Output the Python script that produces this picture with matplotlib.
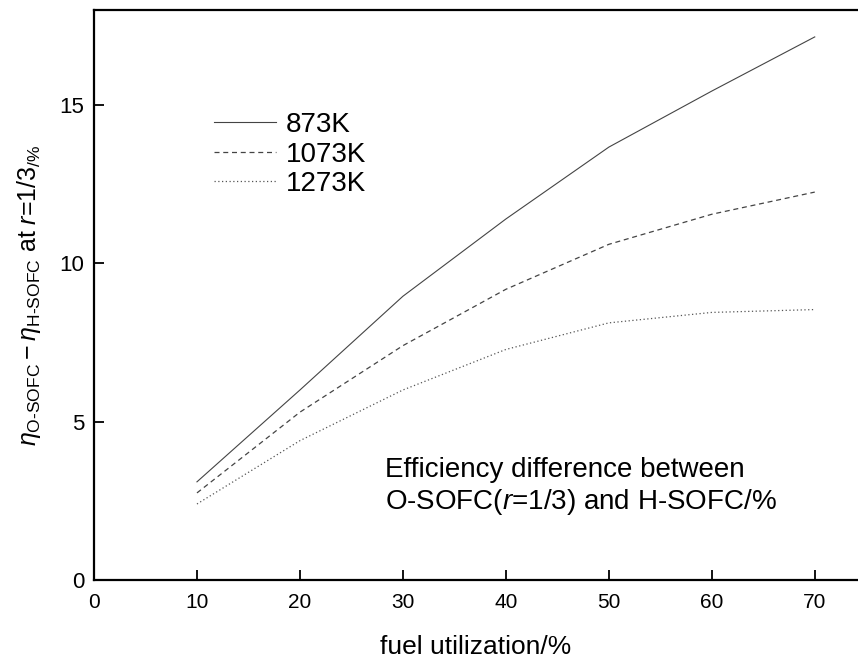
import matplotlib

matplotlib.use("Agg")
import matplotlib.pyplot as plt

plt.rcParams["font.family"] = ["Liberation Sans", "DejaVu Sans"]
plt.rcParams["mathtext.fontset"] = "custom"
plt.rcParams["mathtext.rm"] = "Liberation Sans"
plt.rcParams["mathtext.it"] = "Liberation Sans:italic"

# fuel utilization (%) and efficiency difference (%) per temperature
fuel_util = [10, 20, 30, 40, 50, 60, 70]
diff_873 = [3.1, 6.0, 8.96, 11.4, 13.67, 15.44, 17.15]
diff_1073 = [2.75, 5.3, 7.4, 9.18, 10.6, 11.55, 12.25]
diff_1273 = [2.4, 4.4, 6.0, 7.28, 8.12, 8.45, 8.54]

x_ticks = [0, 10, 20, 30, 40, 50, 60, 70]
y_ticks = [0, 5, 10, 15]

fig = plt.figure(figsize=(8.58, 6.63), dpi=100)
ax = fig.add_axes([94 / 858, 83 / 663, 764 / 858, 570 / 663])

ax.plot(fuel_util, diff_873, color="#444444", linewidth=0.8, linestyle="-", label="873K")
ax.plot(fuel_util, diff_1073, color="#444444", linewidth=0.9, linestyle=(0, (4, 3)), label="1073K")
ax.plot(fuel_util, diff_1273, color="#555555", linewidth=0.9, linestyle=(0, (1, 2)), label="1273K")

ax.set_xlim(0, 74.2)
ax.set_ylim(0, 18)
ax.set_xticks(x_ticks)
ax.set_yticks(y_ticks)
ax.tick_params(direction="in", length=7, width=1.3)
ax.tick_params(axis="x", labelsize=15, pad=9)
ax.tick_params(axis="y", labelsize=16, pad=7)

for side in ("left", "bottom", "top"):
    ax.spines[side].set_linewidth(1.6)
ax.spines["right"].set_visible(False)

ax.set_xlabel("fuel utilization/%", fontsize=19, labelpad=17)
ax.set_ylabel(
    "$\\eta_{\\mathrm{O\u2010SOFC}}-\\eta_{\\mathrm{H\u2010SOFC}}$ at $r$=1/3$_{/\\%}$",
    fontsize=18,
    labelpad=12,
)

ax.legend(
    loc="upper left",
    bbox_to_anchor=(0.124, 0.865),
    frameon=False,
    fontsize=20,
    handlelength=2.25,
    handletextpad=0.36,
    labelspacing=0.13,
)

ax.text(
    0.381,
    0.163,
    "Efficiency difference between\nO-SOFC($r$=1/3) and H-SOFC/%",
    transform=ax.transAxes,
    fontsize=20,
    linespacing=1.2,
    va="center",
)

fig.savefig("out.png", dpi=100)
